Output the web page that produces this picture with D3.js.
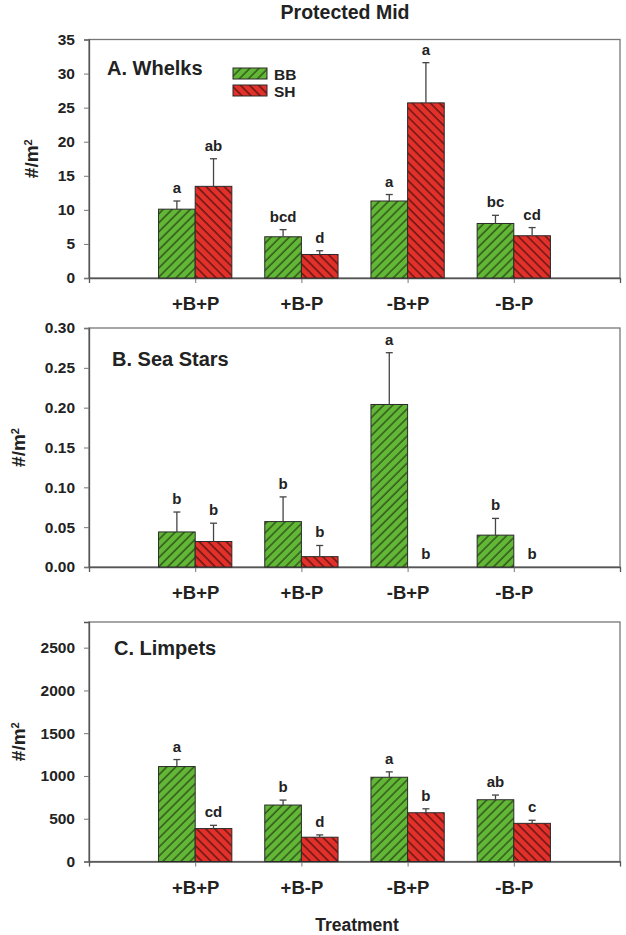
<!DOCTYPE html>
<html>
<head>
<script src="https://d3js.org/d3.v7.min.js"></script>
<style>
  body { margin: 0; background: #fff; }
  text { font-family: "Liberation Sans", Arial, sans-serif; font-weight: bold; fill: #222; }
</style>
</head>
<body>
<div id="chart"></div>
<script>
// data
var categories = ["+B+P", "+B-P", "-B+P", "-B-P"];
var seriesNames = ["BB", "SH"];

var whelksBB = [10.1, 6.05, 11.3, 8.0];
var whelksBBErr = [1.2, 1.05, 0.95, 1.2];
var whelksSH = [13.45, 3.45, 25.7, 6.2];
var whelksSHErr = [4.05, 0.55, 5.9, 1.2];
var whelksBBLetters = ["a", "bcd", "a", "bc"];
var whelksSHLetters = ["ab", "d", "a", "cd"];

var starsBB = [0.044, 0.057, 0.204, 0.040];
var starsBBErr = [0.025, 0.031, 0.065, 0.021];
var starsSH = [0.032, 0.013, 0, 0];
var starsSHErr = [0.023, 0.014, 0, 0];
var starsBBLetters = ["b", "b", "a", "b"];
var starsSHLetters = ["b", "b", "b", "b"];

var limpetsBB = [1110, 660, 985, 722];
var limpetsBBErr = [82, 58, 63, 55];
var limpetsSH = [385, 284, 570, 446];
var limpetsSHErr = [38, 27, 46, 36];
var limpetsBBLetters = ["a", "b", "a", "ab"];
var limpetsSHLetters = ["cd", "d", "b", "c"];

var whelksTicks = [0, 5, 10, 15, 20, 25, 30, 35];
var starsTicks = [0, 0.05, 0.10, 0.15, 0.20, 0.25, 0.30];
var limpetsTicks = [0, 500, 1000, 1500, 2000, 2500];

var width = 626, height = 935;
var green = "#62b736", red = "#e2302a";

var svg = d3.select("#chart").append("svg")
    .attr("width", width)
    .attr("height", height);

var defs = svg.append("defs");
function hatch(id, color, angle, lineColor) {
    var p = defs.append("pattern")
        .attr("id", id)
        .attr("patternUnits", "userSpaceOnUse")
        .attr("width", 6.4)
        .attr("height", 6.4)
        .attr("patternTransform", "rotate(" + angle + ")");
    p.append("rect").attr("width", 6.4).attr("height", 6.4).attr("fill", color);
    p.append("line").attr("x1", 1).attr("y1", 0).attr("x2", 1).attr("y2", 6.4)
        .attr("stroke", lineColor).attr("stroke-width", 1.1);
}
hatch("hatchBB", green, 45, "#1f3311");
hatch("hatchSH", red, -45, "#3b0d0b");

var x = d3.scaleLinear().domain([0, 5]).range([89, 620]);
var barW = 0.345;

function drawPanel(p) {
    var y = d3.scaleLinear().domain([0, p.max]).range([p.bottom, p.top]);
    var g = svg.append("g");

    // frame
    g.append("rect")
        .attr("x", x(0)).attr("y", p.top)
        .attr("width", x(5) - x(0)).attr("height", p.bottom - p.top)
        .attr("fill", "none").attr("stroke", "#777").attr("stroke-width", 1.3);

    var ya = g.append("g")
        .attr("transform", "translate(" + x(0) + ",0)")
        .call(d3.axisLeft(y).tickValues(p.ticks).tickFormat(p.format).tickSize(5).tickPadding(9));
    ya.select(".domain").attr("stroke", "#555").attr("stroke-width", 1.3);
    ya.selectAll(".tick line").attr("stroke", "#777");
    ya.selectAll("text").style("font-size", "15.5px").attr("fill", "#222");

    var xa = g.append("g")
        .attr("transform", "translate(0," + p.bottom + ")")
        .call(d3.axisBottom(x).tickValues([1, 2, 3, 4])
            .tickFormat(function(d) { return categories[d - 1]; })
            .tickSize(5).tickPadding(14));
    xa.select(".domain").attr("stroke", "#555").attr("stroke-width", 1.3);
    xa.selectAll(".tick line").attr("stroke", "#777");
    xa.selectAll("text").style("font-size", "18.5px").attr("fill", "#222");

    var series = [
        { vals: p.bb, err: p.bbErr, letters: p.bbLetters, off: -barW, fill: "url(#hatchBB)" },
        { vals: p.sh, err: p.shErr, letters: p.shLetters, off: 0, fill: "url(#hatchSH)" }
    ];
    series.forEach(function(s) {
        var rows = s.vals.map(function(v, i) {
            return { v: v, e: s.err[i], l: s.letters[i], c: i + 1 };
        });
        var bars = g.selectAll(null).data(rows.filter(function(d) { return d.v > 0; })).enter();
        bars.append("rect")
            .attr("x", function(d) { return x(d.c + s.off); })
            .attr("y", function(d) { return y(d.v); })
            .attr("width", x(barW) - x(0))
            .attr("height", function(d) { return y(0) - y(d.v); })
            .attr("fill", s.fill)
            .attr("stroke", "#2a2a2a").attr("stroke-width", 1);
        var eb = g.selectAll(null).data(rows.filter(function(d) { return d.e > 0; })).enter();
        var cx = function(d) { return x(d.c + s.off + barW / 2); };
        eb.append("line")
            .attr("x1", cx).attr("x2", cx)
            .attr("y1", function(d) { return y(d.v); })
            .attr("y2", function(d) { return y(d.v + d.e); })
            .attr("stroke", "#444").attr("stroke-width", 1.3);
        eb.append("line")
            .attr("x1", function(d) { return cx(d) - 3.5; })
            .attr("x2", function(d) { return cx(d) + 3.5; })
            .attr("y1", function(d) { return y(d.v + d.e); })
            .attr("y2", function(d) { return y(d.v + d.e); })
            .attr("stroke", "#444").attr("stroke-width", 1.3);
        g.selectAll(null).data(rows).enter().append("text")
            .attr("x", cx)
            .attr("y", function(d) { return y(d.v + d.e) - 8; })
            .attr("text-anchor", "middle")
            .style("font-size", "15px")
            .text(function(d) { return d.l; });
    });

    g.append("text")
        .attr("x", p.labelX).attr("y", p.labelY)
        .style("font-size", "20px")
        .text(p.label);

    var yl = g.append("text")
        .attr("transform", "translate(" + p.yLabelX + "," + (p.top + p.bottom) / 2 + ") rotate(-90)")
        .attr("text-anchor", "middle")
        .attr("dy", "0.35em")
        .style("font-size", "19px");
    yl.append("tspan").text("#/m");
    yl.append("tspan").attr("dy", "-0.5em").style("font-size", "11px").text("2");
    return g;
}

drawPanel({ top: 39.5, bottom: 278, max: 35, ticks: whelksTicks, format: d3.format("d"),
    bb: whelksBB, bbErr: whelksBBErr, sh: whelksSH, shErr: whelksSHErr,
    bbLetters: whelksBBLetters, shLetters: whelksSHLetters,
    label: "A. Whelks", labelX: 107, labelY: 75, yLabelX: 31 });

drawPanel({ top: 328, bottom: 567, max: 0.30, ticks: starsTicks, format: d3.format(".2f"),
    bb: starsBB, bbErr: starsBBErr, sh: starsSH, shErr: starsSHErr,
    bbLetters: starsBBLetters, shLetters: starsSHLetters,
    label: "B. Sea Stars", labelX: 112, labelY: 366, yLabelX: 18 });

drawPanel({ top: 622, bottom: 861.5, max: 2800, ticks: limpetsTicks, format: d3.format("d"),
    bb: limpetsBB, bbErr: limpetsBBErr, sh: limpetsSH, shErr: limpetsSHErr,
    bbLetters: limpetsBBLetters, shLetters: limpetsSHLetters,
    label: "C. Limpets", labelX: 114, labelY: 655, yLabelX: 18 });

// legend
var legend = svg.append("g");
seriesNames.forEach(function(name, i) {
    legend.append("rect")
        .attr("x", 233).attr("y", 68 + i * 17)
        .attr("width", 34).attr("height", 11)
        .attr("fill", i === 0 ? "url(#hatchBB)" : "url(#hatchSH)")
        .attr("stroke", "#2a2a2a").attr("stroke-width", 1);
    legend.append("text")
        .attr("x", 274).attr("y", 80 + i * 17)
        .style("font-size", "15.5px")
        .text(name);
});

svg.append("text")
    .attr("x", 345).attr("y", 19)
    .attr("text-anchor", "middle")
    .style("font-size", "19.5px")
    .text("Protected Mid");

svg.append("text")
    .attr("x", 357).attr("y", 931)
    .attr("text-anchor", "middle")
    .style("font-size", "17.5px")
    .text("Treatment");
</script>
</body>
</html>
